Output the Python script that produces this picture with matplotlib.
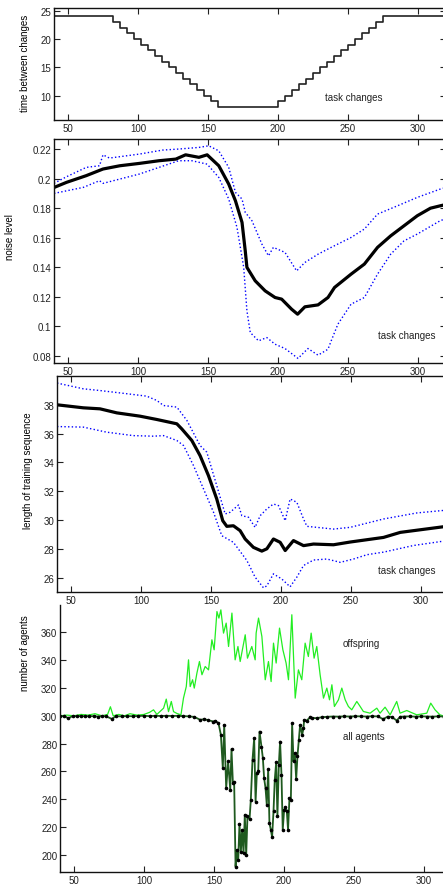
import numpy as np
import matplotlib
matplotlib.use("Agg")
import matplotlib.pyplot as plt
from matplotlib.ticker import FormatStrFormatter

plt.rcParams['font.family'] = ['Liberation Sans', 'DejaVu Sans']
plt.rcParams['font.size'] = 7

# ---- panel 1: time between changes (step function)
step_x = [40, 82, 87, 92, 97, 102, 107, 112, 117, 122, 127, 132, 137, 142, 147, 152, 157,
          200, 205, 210, 215, 220, 225, 230, 235, 240, 245, 250, 255, 260, 265, 270, 275, 320]
step_y = [24, 23, 22, 21, 20, 19, 18, 17, 16, 15, 14, 13, 12, 11, 10, 9, 8,
          9, 10, 11, 12, 13, 14, 15, 16, 17, 18, 19, 20, 21, 22, 23, 24, 24]

# ---- panel 2: noise level
noise_x = [40, 49, 63, 75, 87, 101, 115, 127, 134, 143.5, 149.4, 157.7, 164.8, 169.6, 174.3,
           176.6, 177.8, 183.7, 190.8, 197.9, 202.6, 209.7, 214, 219.2, 228.6, 235.7, 240.4,
           252.2, 261.7, 271.1, 280.5, 290, 299.5, 308.9, 315.8, 320]
noise_mean = [0.194, 0.1975, 0.202, 0.2065, 0.2087, 0.2103, 0.2121, 0.2132, 0.2161, 0.2144,
              0.2161, 0.2087, 0.1963, 0.185, 0.1704, 0.1512, 0.140, 0.1309, 0.1241, 0.1196,
              0.1185, 0.1117, 0.1083, 0.1133, 0.1146, 0.1196, 0.1264, 0.1354, 0.1422, 0.1535,
              0.1613, 0.1681, 0.1749, 0.180, 0.1816, 0.1825]
noise_up_x = [40, 49, 63, 72.5, 75, 79.6, 101, 117.5, 129, 143.5, 150.5, 157.7, 164.8, 169.6,
              174.3, 176.6, 181.4, 188.5, 193.2, 196.7, 205, 213.3, 219.2, 228.6, 238, 252.2,
              261.7, 271.1, 285.3, 299.5, 315.8, 320]
noise_up = [0.1968, 0.2013, 0.2076, 0.2087, 0.2161, 0.2139, 0.2166, 0.2193, 0.220, 0.2211,
            0.2222, 0.2188, 0.2076, 0.1907, 0.1862, 0.1772, 0.1715, 0.1557, 0.1478, 0.1535,
            0.1501, 0.1376, 0.1433, 0.1489, 0.1535, 0.1602, 0.1659, 0.176, 0.1816, 0.1873,
            0.1929, 0.194]
noise_lo_x = [40, 61, 72.5, 75, 101, 129, 138.5, 149.4, 157.7, 164.8, 170.7, 175.5, 177.8,
              180.2, 186.1, 192, 197.9, 205, 214.3, 221.4, 228.6, 235.7, 238, 242.8, 252.2,
              261.7, 271.1, 280.5, 290, 299.5, 315.8, 320]
noise_lo = [0.190, 0.1941, 0.1986, 0.1968, 0.2031, 0.2121, 0.2121, 0.2098, 0.2008, 0.1862,
            0.167, 0.140, 0.1106, 0.0959, 0.0903, 0.0925, 0.088, 0.0851, 0.0784, 0.0851,
            0.0806, 0.0846, 0.0903, 0.1016, 0.1151, 0.1196, 0.1354, 0.1489, 0.1579, 0.1625,
            0.1715, 0.173]

# ---- panel 3: length of training sequence
len_x = [40, 58.8, 70.7, 82.7, 99.3, 111.3, 125.6, 129.1, 136.3, 142.2, 148.2, 154.1, 158.4,
         161.3, 166, 170.8, 174.4, 180.3, 186.3, 189.9, 194.6, 199.4, 203, 208.9, 216.1,
         223.2, 237.5, 249.4, 273.2, 285.2, 315.9, 320]
len_mean = [38.0, 37.79, 37.72, 37.44, 37.21, 36.98, 36.68, 36.33, 35.52, 34.47, 33.08, 31.46,
            29.95, 29.56, 29.6, 29.26, 28.68, 28.1, 27.84, 28.0, 28.68, 28.45, 27.88, 28.57,
            28.22, 28.33, 28.28, 28.47, 28.79, 29.14, 29.53, 29.58]
len_up_x = [40, 58.8, 70.7, 89.8, 104.1, 111.3, 116.1, 125.6, 132.8, 142.2, 147, 154.1, 160.1,
            163.7, 169.6, 172, 176.8, 181.5, 185.1, 189.9, 194.6, 198.2, 203, 206.5, 211.3,
            216.1, 218.5, 237.5, 249.4, 273.2, 297, 320]
len_up = [39.51, 39.11, 38.99, 38.77, 38.6, 38.3, 37.95, 37.84, 36.91, 35.17, 34.71, 32.39,
          30.42, 30.54, 31.04, 30.3, 30.19, 29.49, 30.3, 30.77, 31.11, 31.0, 29.95, 31.46,
          31.23, 30.07, 29.56, 29.37, 29.49, 30.07, 30.49, 30.7]
len_lo_x = [40, 58.8, 75.4, 94.5, 108.9, 116.1, 125.6, 130.4, 137.5, 144.6, 151.8, 157.7, 166,
            175.6, 181.5, 187.5, 189.9, 194.6, 200.6, 206.5, 211.3, 216.1, 223.2, 232.8,
            242.3, 251.8, 261.4, 273.3, 294.7, 315.9, 320]
len_lo = [36.49, 36.45, 36.1, 35.86, 35.82, 35.86, 35.52, 35.17, 33.78, 32.17, 30.54, 28.91,
          28.45, 27.19, 26.03, 25.29, 25.43, 26.26, 25.9, 25.36, 26.03, 26.84, 27.22, 27.29,
          27.06, 27.29, 27.59, 27.77, 28.23, 28.53, 28.56]

# ---- panel 4: number of agents
off_x = [40, 45, 50, 55, 60, 65, 70, 74, 76, 78, 82, 86, 90, 95, 97.3, 100, 104, 106.8, 109.2,
         114, 115.9, 117.5, 119.5, 121.1, 123.5, 126.4, 128.2, 130.2, 131.8, 133, 134.7, 135.9,
         137.8, 139.6, 141.4, 143.7, 146.1, 148.5, 150.1, 152.1, 153.5, 154.9, 156.8, 158.7,
         160.4, 162.8, 165.1, 167.1, 168.7, 172.3, 173.9, 177, 179.4, 180.1, 181.8, 184.2,
         186.6, 188.9, 190.8, 192.5, 194.4, 196.8, 199.2, 201.5, 203.2, 205.6, 208, 210.3,
         212.7, 215.1, 217.4, 219.4, 221.5, 223.4, 225.8, 228.2, 230.6, 232.5, 234.2, 236,
         238.9, 241.3, 243.7, 246, 248.4, 252, 254.4, 256.7, 261.5, 266.3, 268.6, 272.2,
         275.8, 280.5, 282.9, 287.7, 294.8, 302, 304.8, 307.9, 311.4, 313.6, 320]
off_y = [300, 300.5, 300, 301, 300.5, 301.5, 300, 301, 306.5, 300, 301, 300, 301.5, 300.5,
         300.7, 301, 302.5, 304.3, 301, 305.5, 312, 303, 310.3, 303, 301.7, 300.7, 312.7, 321,
         340.2, 321, 325.9, 319.9, 330.7, 339, 329.5, 335.4, 333, 354.6, 347.4, 374.9, 370.2,
         376.1, 359.4, 366.6, 349.8, 373.8, 340.2, 349.8, 339, 358.2, 341.4, 349.8, 340.2,
         359.4, 370.2, 357, 325.9, 339, 324.6, 352.2, 337.9, 363, 347.4, 337.9, 325.9, 372.6,
         312.7, 333, 325.9, 352.2, 342.6, 359.4, 341.4, 349.8, 329.5, 312.7, 319.9, 311.5,
         322.3, 306.7, 311.5, 319.9, 311.5, 306.7, 304.3, 310.3, 306.7, 303.1, 301.9, 305.5,
         301.9, 306.2, 300.7, 310.3, 301.9, 303.8, 300.7, 301.9, 309.1, 304.3, 300.7, 300, 300.5]
all_x = [40, 43, 46, 49, 52, 55, 58, 61, 64, 67, 70, 73, 77, 80, 84, 88, 92, 96, 100, 104, 108,
         112, 116, 120, 124, 128, 132, 136, 140.2, 143, 146, 149.6, 151, 153.2, 154.9, 156.3,
         157.3, 158.7, 160.1, 161.6, 162.5, 163.5, 164.4, 165.4, 166.3, 167.3, 168.2, 169.2,
         170.1, 171.1, 172, 173, 173.9, 175.4, 176.3, 177.5, 178.7, 179.7, 180.6, 181.6, 182.5,
         183.9, 184.9, 185.8, 186.8, 187.7, 188.7, 189.6, 190.6, 191.5, 192.5, 193.4, 194.4,
         195.3, 196.3, 197.2, 198.2, 199.1, 200.1, 201, 202, 202.9, 203.9, 204.9, 205.8, 206.8,
         207.7, 208.7, 209.6, 210.6, 211.5, 213, 213.9, 214.4, 216.3, 218.7, 220, 223.4, 227,
         231, 235, 239, 243, 247, 251, 255, 259, 263, 267, 270.8, 274, 277, 280.5, 283, 286,
         290, 294, 298, 302, 306, 310, 314, 318, 320]
all_y = [300, 299.6, 298.3, 299.8, 299.7, 299.9, 299.6, 299.8, 299.7, 299.5, 299.8, 299.6, 297.8,
         299.7, 299.6, 299.8, 299.7, 299.9, 300, 299.8, 300, 299.9, 300, 299.9, 300, 299.8,
         299.6, 299.2, 297.1, 297.6, 296.8, 295.9, 296.4, 294.7, 286.4, 262.4, 293.5, 248,
         267.2, 246.8, 276.1, 251.6, 252.1, 191.7, 203.7, 196.6, 222.4, 202.5, 218.1, 201.4,
         228.9, 200.1, 227.7, 225.8, 239.7, 268.4, 284, 238.4, 258.8, 260, 288.7, 277.9, 269.6,
         255.2, 248, 236.1, 261.7, 222.9, 218.1, 212.9, 231.3, 254, 266.5, 227.7, 264.8, 281.5,
         257.6, 218.1, 232.5, 234.4, 231.3, 218.1, 240.9, 239.7, 294.7, 267.2, 273.2, 254.5,
         270.8, 282.8, 293.5, 286.4, 291.1, 297.1, 296.6, 299, 298.5, 298.3, 299, 299.3, 299.5,
         299.4, 299.6, 299.5, 299.7, 299.6, 299.5, 299.7, 299.6, 297.6, 299.4, 299.2, 296.6,
         299.3, 299.5, 299.6, 299.4, 299.6, 299.5, 299.4, 299.6, 299.5, 299.4, 299.5]

W, H = 443, 887
fig = plt.figure(figsize=(W / 100, H / 100), dpi=100)


def make_ax(left, right, top, bottom, box=True):
    ax = fig.add_axes([left / W, 1 - bottom / H, (right - left) / W, (bottom - top) / H])
    ax.set_xlim(40, 320)
    ax.set_xticks([50, 100, 150, 200, 250, 300])
    ax.tick_params(direction='in', length=4, width=0.8, labelsize=7, colors='#222222',
                   top=box, right=box, pad=2)
    for s in ax.spines.values():
        s.set_linewidth(1.0)
        s.set_color('#111111')
    if not box:
        ax.spines['top'].set_visible(False)
        ax.spines['right'].set_visible(False)
    return ax


# panel 1
ax1 = make_ax(54, 446, 9, 121)
ax1.step(step_x, step_y, where='post', color='#222222', lw=1.2)
ax1.set_ylim(5.7, 25.5)
ax1.set_yticks([10, 15, 20, 25])
ax1.set_ylabel('time between changes', fontsize=7)
fig.text(325 / W, 1 - 98 / H, 'task changes', fontsize=7, color='#222222', va='center')

# panel 2
ax2 = make_ax(54, 446, 140, 364)
ax2.plot(noise_up_x, noise_up, color='blue', ls=':', lw=1.0)
ax2.plot(noise_lo_x, noise_lo, color='blue', ls=':', lw=1.0)
ax2.plot(noise_x, noise_mean, color='black', lw=2.3)
ax2.set_ylim(0.0753, 0.2268)
ax2.set_yticks([0.08, 0.1, 0.12, 0.14, 0.16, 0.18, 0.2, 0.22])
ax2.yaxis.set_major_formatter(FormatStrFormatter('%g'))
ax2.set_ylabel('noise level', fontsize=7)
fig.text(378 / W, 1 - 336 / H, 'task changes', fontsize=7, color='#222222', va='center')

# panel 3
ax3 = make_ax(57, 449, 377, 593)
ax3.plot(len_up_x, len_up, color='blue', ls=':', lw=1.0)
ax3.plot(len_lo_x, len_lo, color='blue', ls=':', lw=1.0)
ax3.plot(len_x, len_mean, color='black', lw=2.3)
ax3.set_ylim(25, 40)
ax3.set_yticks([26, 28, 30, 32, 34, 36, 38])
ax3.set_ylabel('length of training sequence', fontsize=7)
fig.text(378 / W, 1 - 571 / H, 'task changes', fontsize=7, color='#222222', va='center')

# panel 4
ax4 = make_ax(60, 452, 606, 873, box=False)
ax4.plot(off_x, off_y, color='#22ee22', lw=0.9)
ax4.plot(all_x, all_y, color='#1f5a1f', lw=1.3, marker='o', ms=1.6,
         mfc='black', mec='black')
ax4.set_ylim(187.8, 379.6)
ax4.set_yticks([200, 220, 240, 260, 280, 300, 320, 340, 360])
ax4.set_ylabel('number of agents', fontsize=7)
fig.text(343 / W, 1 - 644 / H, 'offspring', fontsize=7, color='#222222', va='center')
fig.text(343 / W, 1 - 737 / H, 'all agents', fontsize=7, color='#222222', va='center')

# y-label positions (figure pixels: x of label centre, y of label centre)
for ax, px, py in [(ax1, 30, 63), (ax2, 15, 237), (ax3, 33, 471), (ax4, 30, 653)]:
    bb = ax.get_position()
    ax.yaxis.set_label_coords((px / W - bb.x0) / bb.width,
                              ((1 - py / H) - bb.y0) / bb.height)

fig.savefig('out.png', dpi=100)
